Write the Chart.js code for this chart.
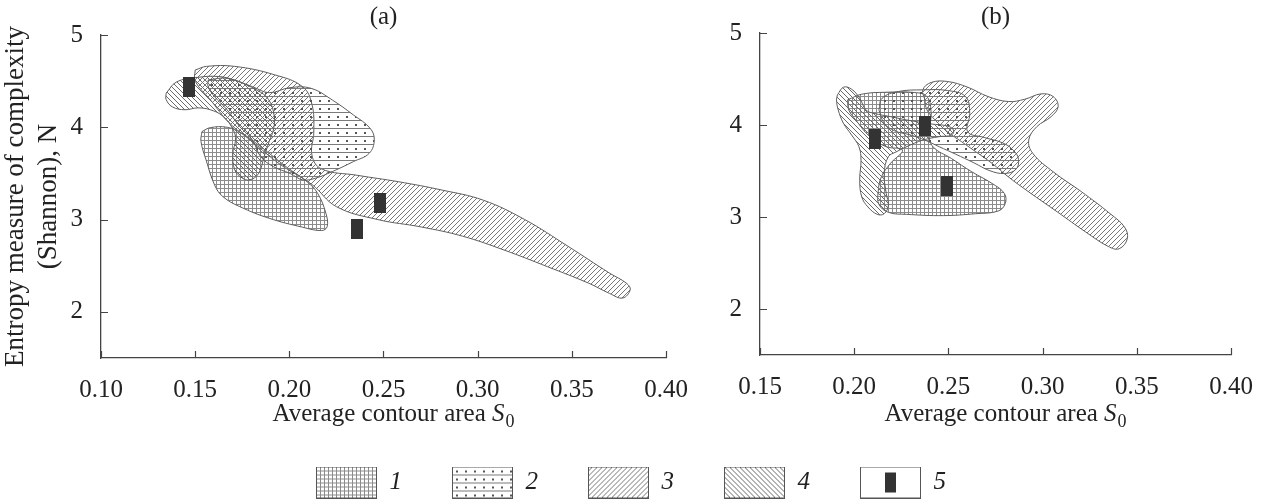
<!DOCTYPE html>
<html><head><meta charset="utf-8">
<script src="https://cdn.jsdelivr.net/npm/chart.js@4.4.0/dist/chart.umd.min.js"></script>
<style>
html,body{margin:0;padding:0;background:#fff;width:1262px;height:500px;overflow:hidden;}
canvas{position:absolute;display:block;}
#ca{left:0;top:0;}
#cb{left:700px;top:0;}
#cl{left:0;top:420px;}
</style></head><body>
<canvas id="ca" width="700" height="430"></canvas>
<canvas id="cb" width="562" height="430"></canvas>
<canvas id="cl" width="1262" height="80"></canvas>
<script>
// ---------- data ----------
const xTicksA = [0.10, 0.15, 0.20, 0.25, 0.30, 0.35, 0.40];
const xTicksB = [0.15, 0.20, 0.25, 0.30, 0.35, 0.40];
const yTicks = [2, 3, 4, 5];
const legendLabels = ['1', '2', '3', '4', '5'];

// panel (a) contours [S0, N]
const shapeA1 = [[0.1536,3.953],[0.158,3.996],[0.167,4.0],[0.1748,3.935],[0.1848,3.79],[0.1982,3.574],[0.2094,3.41],[0.215,3.285],[0.2194,3.069],[0.2201,2.924],[0.2172,2.881],[0.2071,2.917],[0.1893,3.014],[0.1737,3.14],[0.1647,3.249],[0.1603,3.375],[0.1558,3.646],[0.1531,3.845]];
const shapeA2 = [[0.1569,4.513],[0.167,4.531],[0.1804,4.44],[0.1893,4.375],[0.2004,4.43],[0.2116,4.422],[0.2228,4.296],[0.234,4.134],[0.2429,3.989],[0.2451,3.863],[0.2424,3.718],[0.234,3.628],[0.2228,3.52],[0.2138,3.448],[0.2071,3.43],[0.2004,3.50],[0.1915,3.574],[0.1848,3.682],[0.1804,3.863],[0.1737,4.007],[0.167,4.188],[0.1603,4.332],[0.1569,4.44]];
const shapeA3 = [[0.150,4.62],[0.156,4.66],[0.171,4.66],[0.192,4.57],[0.207,4.44],[0.212,4.25],[0.213,3.95],[0.212,3.7],[0.217,3.55],[0.236,3.48],[0.258,3.41],[0.281,3.32],[0.303,3.21],[0.325,3.0],[0.348,2.71],[0.37,2.42],[0.379,2.31],[0.381,2.24],[0.377,2.15],[0.37,2.2],[0.359,2.31],[0.337,2.49],[0.314,2.67],[0.292,2.82],[0.27,2.92],[0.247,3.0],[0.225,3.14],[0.212,3.38],[0.195,3.6],[0.18,3.85],[0.168,4.05],[0.158,4.3],[0.150,4.5]];
const shapeA4 = [[0.1346,4.37],[0.140,4.49],[0.151,4.54],[0.1625,4.55],[0.171,4.51],[0.183,4.40],[0.189,4.30],[0.192,4.12],[0.1915,3.97],[0.189,3.83],[0.1866,3.68],[0.1837,3.50],[0.179,3.43],[0.175,3.45],[0.171,3.54],[0.170,3.72],[0.1714,3.86],[0.1703,3.97],[0.1647,4.12],[0.158,4.19],[0.1513,4.21],[0.1446,4.19],[0.138,4.22],[0.1346,4.30]];
const markersA = [[0.1469,4.44],[0.248,3.18],[0.236,2.895]];

// panel (b) contours [S0, N]
const shapeB1 = [[0.1965,4.273],[0.204,4.335],[0.217,4.356],[0.2321,4.353],[0.2386,4.309],[0.2408,4.127],[0.2397,3.909],[0.2418,3.764],[0.2516,3.636],[0.2624,3.491],[0.2732,3.364],[0.2797,3.255],[0.2801,3.145],[0.2764,3.065],[0.2645,3.036],[0.2473,3.015],[0.2278,3.029],[0.2181,3.051],[0.2131,3.138],[0.2127,3.273],[0.2144,3.436],[0.2192,3.582],[0.2256,3.727],[0.217,3.764],[0.2083,3.873],[0.2008,4.055],[0.1971,4.164]];
const shapeB2 = [[0.2131,4.164],[0.2148,4.291],[0.2235,4.364],[0.2364,4.382],[0.2494,4.375],[0.2591,4.309],[0.2613,4.127],[0.2602,3.927],[0.2689,3.865],[0.2786,3.807],[0.2844,3.727],[0.2872,3.625],[0.2857,3.516],[0.2797,3.473],[0.2721,3.502],[0.2635,3.589],[0.2537,3.684],[0.2451,3.764],[0.2375,3.836],[0.23,3.891],[0.2213,3.938],[0.2159,4.018]];
const shapeB3 = [[0.2375,4.273],[0.2364,4.382],[0.2408,4.462],[0.2494,4.473],[0.2602,4.411],[0.271,4.309],[0.2818,4.255],[0.2905,4.28],[0.2991,4.338],[0.3056,4.309],[0.3082,4.2],[0.3045,4.091],[0.2969,3.982],[0.2926,3.836],[0.2948,3.691],[0.3056,3.491],[0.3207,3.273],[0.3358,3.036],[0.3434,2.891],[0.3449,2.764],[0.3406,2.655],[0.3348,2.68],[0.3229,2.836],[0.3078,3.055],[0.2926,3.273],[0.2818,3.436],[0.2732,3.582],[0.2645,3.709],[0.257,3.818],[0.2494,3.927],[0.2429,4.055],[0.2386,4.164]];
const shapeB4 = [[0.1911,4.327],[0.1943,4.411],[0.1986,4.389],[0.2029,4.291],[0.2062,4.164],[0.2105,4.127],[0.2192,4.091],[0.2278,4.055],[0.2408,4.011],[0.2494,3.989],[0.2527,3.945],[0.2516,3.891],[0.2451,3.873],[0.2364,3.836],[0.2278,3.764],[0.2224,3.709],[0.2181,3.655],[0.2159,3.473],[0.217,3.255],[0.2181,3.127],[0.2159,3.036],[0.2122,3.029],[0.2073,3.109],[0.204,3.218],[0.2029,3.4],[0.2036,3.618],[0.2025,3.764],[0.1986,3.891],[0.1943,4.018],[0.1915,4.164],[0.1906,4.273]];
const markersB = [[0.2109,3.844],[0.2375,3.993],[0.2494,3.338]];

// ---------- styling helpers ----------
const FONT = "'Liberation Serif','Times New Roman',serif";
Chart.defaults.font.family = FONT;
Chart.defaults.color = '#222';

function patternTile(kind) {
  const c = document.createElement('canvas');
  const g = c.getContext('2d');
  if (kind === 1) {
    c.width = c.height = 4;
    g.fillStyle = '#8c8c8c';
    g.fillRect(0, 0, 4, 1); g.fillRect(0, 0, 1, 4);
  } else if (kind === 2) {
    c.width = 9; c.height = 8;
    g.fillStyle = '#7a7a7a'; g.fillRect(0, 0, 9, 1);
    g.fillStyle = '#555'; g.fillRect(4, 4, 2, 2);
  } else if (kind === 3) {
    const s = 5; c.width = c.height = s;
    g.strokeStyle = '#777'; g.lineWidth = 1;
    g.beginPath();
    g.moveTo(-1, s + 1); g.lineTo(s + 1, -1);
    g.moveTo(-1, 1); g.lineTo(1, -1);
    g.moveTo(s - 1, s + 1); g.lineTo(s + 1, s - 1);
    g.stroke();
  } else if (kind === 4) {
    const s = 5; c.width = c.height = s;
    g.strokeStyle = '#6a6a6a'; g.lineWidth = 1;
    g.beginPath();
    g.moveTo(-1, -1); g.lineTo(s + 1, s + 1);
    g.moveTo(s - 1, -1); g.lineTo(s + 1, 1);
    g.moveTo(-1, s - 1); g.lineTo(1, s + 1);
    g.stroke();
  }
  return c;
}
function makePatterns(ctx) {
  const p = {};
  [1, 2, 3, 4].forEach(k => { p[k] = ctx.createPattern(patternTile(k), 'repeat'); });
  return p;
}
function markerImg() {
  const c = document.createElement('canvas');
  c.width = 12; c.height = 20;
  const g = c.getContext('2d');
  g.fillStyle = '#333'; g.fillRect(0, 0, 12, 20);
  return c;
}
function legendImg(kind) {
  const w = 61, h = 32;
  const c = document.createElement('canvas');
  c.width = w; c.height = h;
  const g = c.getContext('2d');
  g.fillStyle = '#fff'; g.fillRect(0, 0, w, h);
  if (kind <= 4) {
    g.fillStyle = g.createPattern(patternTile(kind), 'repeat');
    g.fillRect(0, 0, w, h);
  } else {
    g.fillStyle = '#333'; g.fillRect(25, 6, 11, 20);
  }
  g.strokeStyle = '#555'; g.lineWidth = 1; g.strokeRect(0.5, 0.5, w - 1, h - 1);
  return c;
}

function shapeDS(pts, pat, order) {
  const data = pts.map(p => ({x: p[0], y: p[1]}));
  data.push({x: pts[0][0], y: pts[0][1]});
  return {data, fill: 'shape', backgroundColor: pat, borderColor: '#5e5e5e', borderWidth: 1,
          pointRadius: 0, tension: 0.4, order};
}
function markerDS(pts) {
  return {data: pts.map(p => ({x: p[0], y: p[1]})), showLine: false, fill: false,
          pointStyle: markerImg(), pointRadius: 6, order: 0};
}

const innerTicks = {
  id: 'innerTicks',
  afterDraw(chart) {
    const {ctx, chartArea} = chart;
    const xs = chart.scales.x, ys = chart.scales.y;
    ctx.save();
    ctx.strokeStyle = '#444'; ctx.lineWidth = 1.2;
    ctx.beginPath();
    xs.ticks.forEach(t => {
      const px = Math.round(xs.getPixelForValue(t.value)) + 0.5;
      ctx.moveTo(px, chartArea.bottom); ctx.lineTo(px, chartArea.bottom - 7);
    });
    ys.ticks.forEach(t => {
      const py = Math.round(ys.getPixelForValue(t.value)) + 0.5;
      ctx.moveTo(chartArea.left, py); ctx.lineTo(chartArea.left + 7, py);
    });
    ctx.stroke();
    ctx.restore();
  }
};
const xTitle = {
  id: 'xTitle',
  afterDraw(chart, args, o) {
    const {ctx, chartArea} = chart;
    const cx = (chartArea.left + chartArea.right) / 2 + (o.shift || 0);
    const by = chartArea.bottom + o.dy;
    const f1 = o.size + 'px ' + FONT, f2 = 'italic ' + o.size + 'px ' + FONT, f3 = Math.round(o.size * 0.72) + 'px ' + FONT;
    ctx.save();
    ctx.fillStyle = '#222'; ctx.textBaseline = 'alphabetic'; ctx.textAlign = 'left';
    ctx.font = f1; const w1 = ctx.measureText(o.text).width;
    ctx.font = f2; const w2 = ctx.measureText(o.sym).width;
    ctx.font = f3; const w3 = ctx.measureText(o.sub).width;
    let x = cx - (w1 + w2 + w3 + 1) / 2;
    ctx.font = f1; ctx.fillText(o.text, x, by); x += w1;
    ctx.font = f2; ctx.fillText(o.sym, x, by); x += w2 + 1;
    ctx.font = f3; ctx.fillText(o.sub, x, by + 6);
    ctx.restore();
  }
};

function panelConfig(opt) {
  return {
    type: 'line',
    data: {datasets: opt.datasets},
    plugins: [innerTicks, xTitle],
    options: {
      responsive: false, animation: false, events: [],
      layout: {padding: {left: 0, right: opt.padRight, top: 0, bottom: 0}},
      plugins: {
        legend: {display: false}, tooltip: {enabled: false},
        title: {display: true, text: opt.title, color: '#222', fullSize: false,
                font: {size: 25, family: FONT, weight: 'normal', lineHeight: 1.2},
                padding: {top: 2, bottom: opt.titleBottom}},
        xTitle: {text: 'Average contour area ', sym: 'S', sub: '0', size: 25, dy: opt.xTitleDy, shift: 10}
      },
      scales: {
        x: {
          type: 'linear', min: opt.xTicks[0], max: opt.xTicks[opt.xTicks.length - 1],
          grid: {display: false},
          border: {display: true, color: '#444', width: 1.3},
          afterBuildTicks: s => { s.ticks = opt.xTicks.map(v => ({value: v})); },
          afterFit: s => { s.height = opt.xHeight; },
          ticks: {font: {size: 25, family: FONT}, color: '#222', padding: 9, maxRotation: 0,
                  autoSkip: false, callback: v => Number(v).toFixed(2)}
        },
        y: {
          type: 'linear', min: 1.5, max: 5,
          grid: {display: false},
          border: {display: true, color: '#444', width: 1.3},
          afterBuildTicks: s => { s.ticks = yTicks.map(v => ({value: v})); },
          afterFit: s => { s.width = opt.yWidth; },
          ticks: {font: {size: 25, family: FONT}, color: '#222', padding: 10, autoSkip: false,
                  callback: v => String(v)},
          title: opt.yTitle ? {display: true, text: ['Entropy measure of complexity', '(Shannon), N'],
                  color: '#222', font: {size: 27, family: FONT, lineHeight: 1.2}, padding: {top: 0, bottom: 0}}
                 : {display: false}
        }
      }
    }
  };
}

const ctxA = document.getElementById('ca').getContext('2d');
const pA = makePatterns(ctxA);
new Chart(ctxA, panelConfig({
  title: '(a)', titleBottom: 3, padRight: 34, yWidth: 101, xHeight: 72, xTitleDy: 63, yTitle: true,
  xTicks: xTicksA,
  datasets: [markerDS(markersA), shapeDS(shapeA4, pA[4], 1), shapeDS(shapeA2, pA[2], 2),
             shapeDS(shapeA3, pA[3], 3), shapeDS(shapeA1, pA[1], 4)]
}));

const ctxB = document.getElementById('cb').getContext('2d');
const pB = makePatterns(ctxB);
new Chart(ctxB, panelConfig({
  title: '(b)', titleBottom: 1, padRight: 29, yWidth: 60, xHeight: 75, xTitleDy: 66, yTitle: false,
  xTicks: xTicksB,
  datasets: [markerDS(markersB), shapeDS(shapeB4, pB[4], 1), shapeDS(shapeB2, pB[2], 2),
             shapeDS(shapeB3, pB[3], 3), shapeDS(shapeB1, pB[1], 4)]
}));

const legendImgs = legendLabels.map((l, i) => legendImg(i + 1));
new Chart(document.getElementById('cl').getContext('2d'), {
  type: 'line',
  data: {datasets: legendLabels.map(l => ({label: l, data: []}))},
  options: {
    responsive: false, animation: false, events: [],
    layout: {padding: {top: 0, left: 0, right: 0, bottom: 0}},
    scales: {x: {display: false}, y: {display: false}},
    plugins: {
      tooltip: {enabled: false},
      legend: {
        display: true, position: 'top', align: 'center', maxHeight: 80,
        labels: {
          usePointStyle: true, pointStyleWidth: 61, padding: 50,
          font: {size: 25, family: FONT, style: 'italic'}, color: '#222',
          generateLabels: () => legendLabels.map((l, i) => ({
            text: l, pointStyle: legendImgs[i], fillStyle: '#fff', strokeStyle: '#fff',
            lineWidth: 0, hidden: false, datasetIndex: i, fontColor: '#222'
          }))
        }
      }
    }
  }
});
</script>
</body></html>
